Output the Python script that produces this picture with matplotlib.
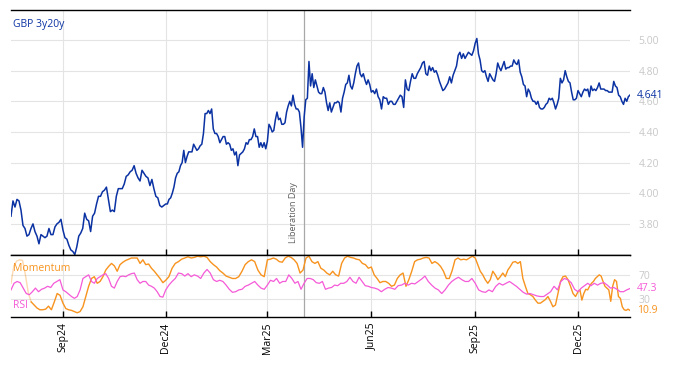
import numpy as np
import pandas as pd
import matplotlib
matplotlib.use('Agg')
import matplotlib.pyplot as plt
import matplotlib.dates as mdates
import matplotlib.transforms as mtransforms

plt.rcParams['font.family'] = ['Open Sans', 'DejaVu Sans']

# quarter boundaries (each chunk of values runs between two of these dates)
bounds = ['2024-07-17', '2024-09-01', '2024-12-01', '2025-03-01',
          '2025-06-01', '2025-09-01', '2025-12-01', '2026-01-16']

# GBP 3y20y levels per quarter
yld_jul24 = [3.85, 3.95, 3.91, 3.96, 3.95, 3.89, 3.79, 3.77, 3.72, 3.73, 3.77, 3.80, 3.75,
             3.72, 3.67, 3.73, 3.72, 3.71, 3.72, 3.77, 3.73, 3.73, 3.78, 3.80, 3.81, 3.83]
yld_sep24 = [3.76, 3.71, 3.70, 3.66, 3.63, 3.62, 3.60, 3.65, 3.72, 3.74, 3.77, 3.87, 3.83,
             3.82, 3.75, 3.85, 3.87, 3.93, 3.98, 3.98, 4.01, 4.02, 4.04, 3.96, 3.88, 3.89,
             3.88, 3.98, 4.03, 4.03, 4.03, 4.06, 4.11, 4.12, 4.14, 4.15, 4.18, 4.13, 4.10,
             4.08, 4.15, 4.13, 4.11, 4.10, 4.05, 4.09, 4.03, 3.98, 3.97, 3.92, 3.91, 3.92]
yld_dec24 = [3.93, 3.93, 3.96, 3.97, 4.00, 4.04, 4.10, 4.13, 4.14, 4.18, 4.20, 4.28, 4.20,
             4.24, 4.27, 4.27, 4.27, 4.32, 4.30, 4.28, 4.29, 4.31, 4.32, 4.39, 4.52, 4.52,
             4.54, 4.52, 4.55, 4.42, 4.39, 4.39, 4.37, 4.33, 4.35, 4.37, 4.37, 4.32, 4.33,
             4.32, 4.28, 4.29, 4.25, 4.27, 4.18, 4.25, 4.26, 4.27, 4.29, 4.33, 4.32, 4.35,
             4.35, 4.37, 4.42, 4.37, 4.37, 4.30, 4.33, 4.30, 4.33, 4.29]
yld_mar25 = [4.34, 4.45, 4.43, 4.40, 4.41, 4.48, 4.53, 4.48, 4.49, 4.45, 4.45, 4.46, 4.53,
             4.57, 4.60, 4.57, 4.64, 4.58, 4.55, 4.55, 4.53, 4.43, 4.30, 4.50, 4.61, 4.62,
             4.86, 4.70, 4.78, 4.69, 4.74, 4.70, 4.66, 4.65, 4.65, 4.69, 4.66, 4.59, 4.54,
             4.59, 4.53, 4.56, 4.59, 4.59, 4.60, 4.59, 4.53, 4.62, 4.66, 4.71, 4.72, 4.77,
             4.70, 4.68, 4.72, 4.78, 4.83, 4.85, 4.78, 4.76, 4.78, 4.74, 4.71, 4.74, 4.71]
yld_jun25 = [4.66, 4.67, 4.65, 4.68, 4.63, 4.61, 4.55, 4.63, 4.62, 4.62, 4.58, 4.60, 4.60,
             4.58, 4.58, 4.60, 4.62, 4.64, 4.63, 4.56, 4.74, 4.68, 4.67, 4.73, 4.78, 4.75,
             4.75, 4.78, 4.80, 4.82, 4.85, 4.86, 4.78, 4.77, 4.83, 4.80, 4.82, 4.79, 4.80,
             4.77, 4.73, 4.70, 4.67, 4.68, 4.70, 4.72, 4.76, 4.72, 4.77, 4.80, 4.83, 4.90,
             4.92, 4.88, 4.91, 4.88, 4.90, 4.92, 4.91, 4.90, 4.93]
yld_sep25 = [4.98, 5.01, 4.91, 4.87, 4.80, 4.79, 4.80, 4.76, 4.73, 4.78, 4.76, 4.74, 4.73,
             4.78, 4.85, 4.82, 4.80, 4.83, 4.86, 4.81, 4.82, 4.82, 4.83, 4.83, 4.87, 4.85,
             4.84, 4.87, 4.79, 4.76, 4.71, 4.70, 4.63, 4.68, 4.66, 4.62, 4.60, 4.60, 4.58,
             4.60, 4.56, 4.55, 4.55, 4.56, 4.58, 4.59, 4.62, 4.61, 4.62, 4.59, 4.55, 4.58,
             4.62, 4.75, 4.72, 4.74, 4.80, 4.76, 4.73, 4.72, 4.66, 4.61, 4.61, 4.62]
yld_dec25 = [4.67, 4.65, 4.63, 4.66, 4.68, 4.67, 4.68, 4.63, 4.70, 4.67, 4.68, 4.67, 4.69,
             4.72, 4.68, 4.68, 4.68, 4.67, 4.67, 4.66, 4.66, 4.66, 4.73, 4.70, 4.69, 4.64,
             4.63, 4.60, 4.58, 4.62, 4.60, 4.63, 4.641]

# momentum indicator (0-100)
mom_jul24 = [56, 85, 93, 95, 94, 70, 40, 25, 20, 15, 12, 12, 13, 18, 12, 25, 39, 36]
mom_sep24 = [23, 14, 12, 11, 9, 7, 9, 17, 34, 51, 64, 67, 56, 59, 67, 78, 84, 89, 85, 76,
             87, 91, 94, 96, 98, 98, 98, 89, 95, 87, 88, 81, 76, 70, 64, 57]
mom_dec24 = [61, 67, 81, 89, 92, 96, 98, 100, 98, 99, 101, 100, 101, 99, 92, 87, 83, 77,
             73, 68, 66, 64, 64, 67, 76, 87, 92, 95, 92, 78, 70, 67]
mom_mar25 = [95, 96, 98, 96, 92, 91, 98, 101, 99, 95, 89, 73, 78, 98, 101, 92, 89, 92, 81,
             78, 73, 70, 76, 70, 68, 89, 98, 101, 99, 98, 96, 95, 89, 87, 81]
mom_jun25 = [83, 70, 64, 57, 59, 59, 56, 51, 53, 64, 70, 73, 51, 62, 76, 92, 95, 96, 98, 99,
             98, 89, 92, 89, 84, 76, 64, 64, 77, 95, 98, 95, 96, 95, 98, 101]
mom_sep25 = [98, 87, 76, 70, 62, 56, 62, 76, 70, 62, 67, 73, 67, 78, 84, 91, 92, 89, 92, 64,
             51, 39, 37, 34, 28, 23, 23, 26, 29, 34, 26, 17, 20, 39, 59, 67, 68, 62, 51, 39, 34]
mom_dec25 = [42, 45, 28, 39, 46, 45, 51, 56, 59, 64, 67, 70, 68, 59, 51, 48, 45, 26, 51, 62,
             59, 34, 31, 17, 12, 11, 13, 10.9]

# RSI
rsi_jul24 = [45, 56, 59, 57, 48, 39, 37, 42, 48, 42, 46, 48, 51, 49, 56, 59, 62]
rsi_sep24 = [45, 42, 38, 34, 31, 34, 45, 64, 67, 70, 59, 56, 64, 67, 70, 72, 64, 51, 48, 59,
             67, 68, 67, 70, 72, 73, 62, 56, 59, 59, 53, 51, 48, 42, 34, 33]
rsi_dec24 = [45, 53, 59, 64, 73, 72, 68, 72, 67, 70, 68, 64, 73, 79, 73, 62, 59, 61, 59, 53,
             46, 41, 42, 45, 46, 51, 53, 56, 59, 53, 48, 46]
rsi_mar25 = [53, 61, 59, 64, 56, 59, 59, 70, 64, 56, 59, 46, 56, 64, 64, 62, 57, 56, 59, 46,
             48, 49, 53, 52, 56, 56, 59, 66, 59, 56, 66, 59, 52, 51]
rsi_jun25 = [49, 48, 46, 42, 46, 49, 48, 46, 52, 53, 56, 53, 56, 55, 59, 63, 68, 59, 53, 48,
             45, 39, 45, 53, 59, 63, 66, 62, 59, 59, 64]
rsi_sep25 = [56, 45, 42, 41, 45, 42, 51, 56, 53, 56, 59, 55, 51, 46, 41, 38, 39, 37, 35, 34,
             34, 38, 42, 51, 45, 59, 64, 62, 57, 46]
rsi_dec25 = [42, 48, 52, 56, 52, 56, 53, 56, 57, 53, 48, 49, 46, 42, 42, 45, 47.3]

liberation_day = pd.Timestamp('2025-04-02')


def build_series(chunks):
    # spread each quarter's readings evenly across that quarter
    idx, vals = [], []
    for i, chunk in enumerate(chunks):
        last = i == len(chunks) - 1
        n = len(chunk) if last else len(chunk) + 1
        d = pd.date_range(bounds[i], bounds[i + 1], periods=n)
        if not last:
            d = d[:-1]
        idx.extend(d)
        vals.extend(chunk)
    return pd.Series(vals, index=pd.DatetimeIndex(idx))


yld = build_series([yld_jul24, yld_sep24, yld_dec24, yld_mar25, yld_jun25, yld_sep25, yld_dec25])
mom = build_series([mom_jul24, mom_sep24, mom_dec24, mom_mar25, mom_jun25, mom_sep25, mom_dec25])
rsi = build_series([rsi_jul24, rsi_sep24, rsi_dec24, rsi_mar25, rsi_jun25, rsi_sep25, rsi_dec25])

blue = '#0b32a3'
orange = '#f7931e'
pink = '#f55ad8'
grid_c = '#e4e4e4'
lbl_c = '#c8c8c8'

fig = plt.figure(figsize=(6.74, 3.66), dpi=100)
ax = fig.add_axes([0.0163, 0.3033, 0.9184, 0.6694])
ax2 = fig.add_axes([0.0163, 0.1339, 0.9184, 0.1694], sharex=ax)

ax.plot(yld.index, yld.values, color=blue, lw=1.1)
ax.set_ylim(3.597, 5.196)
ax.set_yticks([3.8, 4.0, 4.2, 4.4, 4.6, 4.8, 5.0])
ax.yaxis.set_major_formatter(plt.FormatStrFormatter('%.2f'))

# warm-up part of momentum shown faded
n_fade = 7
ax2.plot(mom.index[:n_fade + 1], mom.values[:n_fade + 1], color=orange, lw=1.0, alpha=0.35)
ax2.plot(mom.index[n_fade:], mom.values[n_fade:], color=orange, lw=1.0)
ax2.plot(rsi.index, rsi.values, color=pink, lw=0.9)
ax2.set_ylim(0, 103)
ax2.set_yticks([30, 70])

ax.set_xlim(yld.index[0], yld.index[-1])
ax2.xaxis.set_major_locator(mdates.MonthLocator(bymonth=[3, 6, 9, 12]))
ax2.xaxis.set_major_formatter(mdates.DateFormatter('%b%y'))

lib_num = mdates.date2num(liberation_day)
for a in (ax, ax2):
    a.grid(True, color=grid_c, lw=0.8)
    a.set_axisbelow(True)
    for s in ('left', 'right'):
        a.spines[s].set_visible(False)
    for s in ('top', 'bottom'):
        a.spines[s].set_color('black')
        a.spines[s].set_linewidth(1.0)
    a.yaxis.tick_right()
    a.tick_params(axis='y', length=0, labelsize=7.5, labelcolor=lbl_c, pad=6)
    a.tick_params(axis='x', direction='in', length=4, width=1, color='black')
    a.axvline(lib_num, color='#a8a8a8', lw=0.9, zorder=1)

ax.tick_params(axis='x', labelbottom=False)
ax2.tick_params(axis='x', labelsize=7.5, labelrotation=90, pad=4)

ax.text(0.004, 0.94, 'GBP 3y20y', transform=ax.transAxes, color=blue,
        fontsize=7.5, va='center', ha='left')
ax2.text(0.004, 0.79, 'Momentum', transform=ax2.transAxes, color=orange,
         fontsize=7.5, va='center', ha='left')
ax2.text(0.004, 0.18, 'RSI', transform=ax2.transAxes, color=pink,
         fontsize=7.5, va='center', ha='left')

trans = mtransforms.blended_transform_factory(ax.transData, ax.transAxes)
ax.annotate('Liberation Day', xy=(lib_num, 0.05), xycoords=trans,
            xytext=(-4, 0), textcoords='offset points', rotation=90,
            ha='right', va='bottom', fontsize=6.5, color='#606060')

# last-value labels at right edge
ax.annotate(f'{yld.values[-1]:.3f}', xy=(1, yld.values[-1]), xycoords=('axes fraction', 'data'),
            xytext=(5, 0), textcoords='offset points', color=blue, fontsize=7.5, va='center')
ax2.annotate(f'{rsi.values[-1]:.1f}', xy=(1, rsi.values[-1]), xycoords=('axes fraction', 'data'),
             xytext=(5, 0), textcoords='offset points', color=pink, fontsize=7.5, va='center')
ax2.annotate(f'{mom.values[-1]:.1f}', xy=(1, mom.values[-1]), xycoords=('axes fraction', 'data'),
             xytext=(5, 0), textcoords='offset points', color=orange, fontsize=7.5, va='center')

fig.savefig('out.png', dpi=100)
